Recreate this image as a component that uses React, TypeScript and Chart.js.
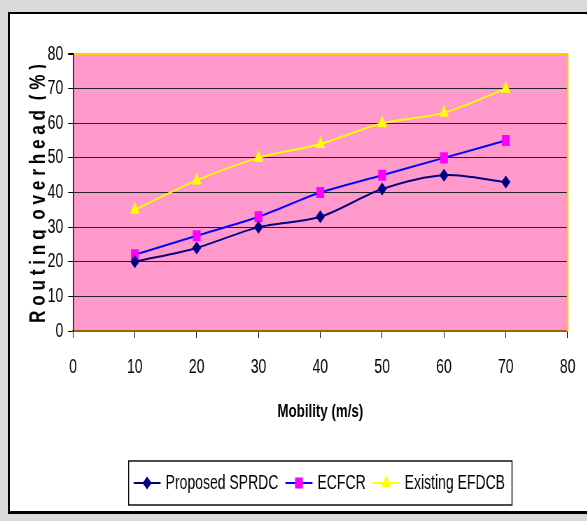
import React, { useEffect, useRef } from 'react';
import { Chart, registerables } from 'chart.js';

Chart.register(...registerables);

// ---- data ----
const mobility = [10, 20, 30, 40, 50, 60, 70];
const proposedSPRDC = [20, 24, 30, 33, 41, 45, 43];
const ecfcr = [22, 27.5, 33, 40, 45, 50, 55];
const existingEFDCB = [35, 43.5, 50, 54, 60, 63, 70];
const seriesNames = ['Proposed SPRDC', 'ECFCR', 'Existing EFDCB'];
const xTitle = 'Mobility (m/s)';
const yTitle = 'R o u t i n g  o v e r h e a d  ( % )';
const axisMin = 0;
const axisMax = 80;
const axisStep = 10;

// ---- layout / style ----
const SQ = 0.7; // horizontal squeeze of the original picture
const CW = Math.round(587 / SQ);
const CH = 521;
const FONT = "'Liberation Sans', Arial, sans-serif";

function drawMarker(ctx: CanvasRenderingContext2D, style: string, x: number, y: number, r: number, color: string) {
  ctx.save();
  ctx.fillStyle = color;
  ctx.beginPath();
  if (style === 'rectRot') {
    ctx.moveTo(x, y - r); ctx.lineTo(x + r, y); ctx.lineTo(x, y + r); ctx.lineTo(x - r, y);
  } else if (style === 'rect') {
    const s = Math.SQRT1_2 * r;
    ctx.rect(x - s, y - s, 2 * s, 2 * s);
  } else {
    const w = r * Math.sin((2 * Math.PI) / 3);
    ctx.moveTo(x, y - r); ctx.lineTo(x + w, y + r / 2); ctx.lineTo(x - w, y + r / 2);
  }
  ctx.closePath();
  ctx.fill();
  ctx.restore();
}

const decor = {
  id: 'decor',
  beforeDraw(chart: any) {
    const { ctx, chartArea: a } = chart;
    ctx.save();
    ctx.fillStyle = '#ff99cc';
    ctx.fillRect(a.left, a.top, a.right - a.left, a.bottom - a.top);
    ctx.restore();
  },
  afterDraw(chart: any) {
    const { ctx, chartArea: a } = chart;
    // right plot border
    ctx.save();
    ctx.strokeStyle = '#ffcc00';
    ctx.lineWidth = 2.5;
    ctx.beginPath();
    ctx.moveTo(a.right, a.top - 1);
    ctx.lineTo(a.right, a.bottom);
    ctx.stroke();
    ctx.restore();

    // y axis title (rotated)
    ctx.save();
    const baseX = 45 / SQ;
    ctx.beginPath();
    ctx.rect(0, 0, baseX + 1.5, CH);
    ctx.clip();
    ctx.translate(baseX, (a.top + a.bottom) / 2 + 1);
    ctx.rotate(-Math.PI / 2);
    ctx.font = `bold 32px ${FONT}`;
    const w = ctx.measureText(yTitle).width;
    ctx.scale((a.bottom - a.top - 18) / w, 1);
    ctx.textAlign = 'center';
    ctx.textBaseline = 'alphabetic';
    ctx.fillStyle = '#000';
    ctx.fillText(yTitle, 0, 0);
    ctx.restore();

    // legend
    ctx.save();
    ctx.font = `20px ${FONT}`;
    const sample = 27 / SQ, gapT = 5 / SQ, gapI = 7 / SQ, padL = 5 / SQ, padR = 7 / SQ;
    const ds = chart.data.datasets;
    const widths = ds.map((d: any) => ctx.measureText(d.label).width);
    let total = padL + padR + gapI * (ds.length - 1);
    widths.forEach((tw: number) => { total += sample + gapT + tw; });
    const cx = (a.left + a.right) / 2;
    const top = 461, h = 44, cy = top + h / 2;
    let x = cx - total / 2;
    ctx.strokeStyle = '#000';
    ctx.lineWidth = 1.4;
    ctx.strokeRect(x, top, total, h);
    x += padL;
    ds.forEach((d: any, i: number) => {
      ctx.strokeStyle = d.borderColor;
      ctx.lineWidth = 2;
      ctx.beginPath();
      ctx.moveTo(x, cy);
      ctx.lineTo(x + sample, cy);
      ctx.stroke();
      drawMarker(ctx, d.pointStyle, x + sample / 2, cy, d.pointRadius, d.pointBackgroundColor);
      x += sample + gapT;
      ctx.fillStyle = '#000';
      ctx.textAlign = 'left';
      ctx.textBaseline = 'middle';
      ctx.fillText(d.label, x, cy);
      x += widths[i] + gapI;
    });
    ctx.restore();
  },
};

export default function App() {
  const ref = useRef<HTMLCanvasElement>(null);
  useEffect(() => {
    if (!ref.current) return;
    const toPts = (ys: number[]) => mobility.map((m, i) => ({ x: m, y: ys[i] }));
    const chart = new Chart(ref.current, {
      type: 'line',
      data: {
        datasets: [
          {
            label: seriesNames[0], data: toPts(proposedSPRDC),
            borderColor: '#000080', borderWidth: 2, tension: 0.3,
            pointStyle: 'rectRot', pointRadius: 6.5, pointBackgroundColor: '#000080', pointBorderColor: '#000080', pointBorderWidth: 0,
          },
          {
            label: seriesNames[1], data: toPts(ecfcr),
            borderColor: '#0000ff', borderWidth: 2, tension: 0.3,
            pointStyle: 'rect', pointRadius: 7.8, pointBackgroundColor: '#ff00ff', pointBorderColor: '#ff00ff', pointBorderWidth: 0,
          },
          {
            label: seriesNames[2], data: toPts(existingEFDCB),
            borderColor: '#ffff00', borderWidth: 2, tension: 0.3,
            pointStyle: 'triangle', pointRadius: 8, pointBackgroundColor: '#ffff00', pointBorderColor: '#ffff00', pointBorderWidth: 0,
          },
        ] as any,
      },
      options: {
        animation: false,
        responsive: false,
        devicePixelRatio: 1,
        events: [],
        layout: { padding: { left: 0, right: CW - 568.5 / SQ, top: 54, bottom: 0 } },
        plugins: { legend: { display: false }, tooltip: { enabled: false }, title: { display: false } },
        scales: {
          x: {
            type: 'linear', min: axisMin, max: axisMax,
            afterFit: (s: any) => { s.height = CH - 331; },
            ticks: { stepSize: axisStep, color: '#000', font: { family: FONT, size: 20 }, padding: 17, maxRotation: 0 },
            grid: { drawOnChartArea: false, tickLength: 7, color: '#000', tickColor: '#000' },
            border: { color: '#996600', width: 2 },
            title: { display: true, text: xTitle, color: '#000', font: { family: FONT, size: 19, weight: 'bold' }, padding: { top: 0, bottom: 98 } },
          },
          y: {
            min: axisMin, max: axisMax,
            afterFit: (s: any) => { s.width = 73 / SQ; },
            ticks: { stepSize: axisStep, color: '#000', font: { family: FONT, size: 20 }, padding: 7 },
            grid: {
              tickLength: 7,
              color: (c: any) => (c.tick && c.tick.value === axisMax ? '#ffcc00' : '#222'),
              lineWidth: (c: any) => (c.tick && c.tick.value === axisMax ? 2 : 1),
              tickColor: '#000',
            },
            border: { color: '#000', width: 1.4 },
          },
        },
      } as any,
      plugins: [decor],
    });
    return () => chart.destroy();
  }, []);

  return (
    <div style={{ position: 'fixed', left: 0, top: 0, width: 587, height: 521, background: '#d9d9d9', overflow: 'hidden' }}>
      <div
        style={{
          position: 'absolute', left: 8, top: 12, width: 620, height: 502, boxSizing: 'border-box',
          background: '#fff', borderTop: '2px solid #000', borderLeft: '2px solid #000', borderBottom: '3px solid #000',
        }}
      />
      <canvas
        ref={ref}
        width={CW}
        height={CH}
        style={{ position: 'absolute', left: 0, top: 0, width: CW, height: CH, transform: `scaleX(${SQ})`, transformOrigin: '0 0' }}
      />
    </div>
  );
}
